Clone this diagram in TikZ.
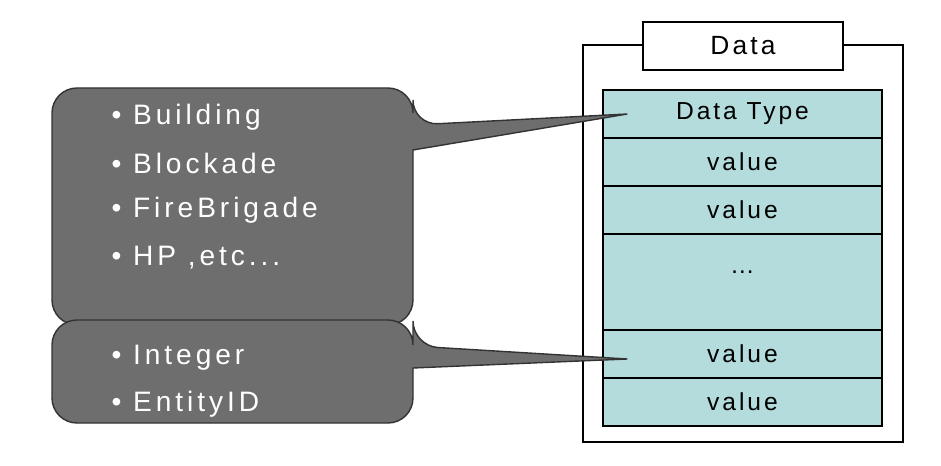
\documentclass[tikz,border=0pt]{standalone}
\usepackage{fontspec}
\setmainfont{Liberation Sans}
\definecolor{cellfill}{HTML}{B4DCDC}
\definecolor{bubble}{HTML}{6E6E6E}
\begin{document}
\begin{tikzpicture}[x=0.02cm,y=-0.02cm,thick,
    cell/.style={draw,fill=cellfill,minimum width=5.58cm,minimum height=0.96cm,inner sep=0pt,font=\fontsize{14}{16}\selectfont\addfontfeatures{LetterSpace=12}},
    bullet/.style={anchor=west,text=white,font=\fontsize{16}{18}\selectfont\addfontfeatures{LetterSpace=14}},
    callout/.style={draw=black!80,fill=bubble,rounded corners=0.5cm}]
    \useasboundingbox (0,0) rectangle (941,466);
    % outer frame and title
    \draw (643,45) -- (583,45) -- (583,442) -- (903,442) -- (903,45) -- (843,45);
    \node[draw,fill=white,minimum width=4cm,minimum height=0.96cm,font=\fontsize{15}{17}\selectfont\addfontfeatures{LetterSpace=12}] (title) at (743,46) {Data};
    % cells
    \node[cell] (type) at (742.5,114) {Data Type};
    \node[cell] (v1) at (742.5,162) {value};
    \node[cell] (v2) at (742.5,210) {value};
    \node[cell,minimum height=1.92cm] (dots) at (742.5,282) {\raisebox{0.4cm}{\dots}};
    \node[cell] (v3) at (742.5,354) {value};
    \node[cell] (v4) at (742.5,402) {value};
    % callouts
    \coordinate (tip1) at ([xshift=0.5cm]type.west);
    \coordinate (tip2) at ([xshift=0.5cm,yshift=-0.1cm]v3.west);
    \draw[callout] (413,150) |- (52,325) |- (413,88) -- (413,125) [sharp corners] -- (tip1) -- cycle;
    \draw[callout] (413,368) |- (52,423) |- (413,320) -- (413,346) [sharp corners] -- (tip2) -- cycle;
    \node[bullet] (b1) at (105,117) {\textbullet\ Building};
    \node[bullet] (b2) at (105,163) {\textbullet\ Blockade};
    \node[bullet] (b3) at (105,210) {\textbullet\ FireBrigade};
    \node[bullet] (b4) at (105,258) {\textbullet\ HP ,etc...};
    \node[bullet] (b5) at (105,358) {\textbullet\ Integer};
    \node[bullet] (b6) at (105,404) {\textbullet\ EntityID};
\end{tikzpicture}
\end{document}
